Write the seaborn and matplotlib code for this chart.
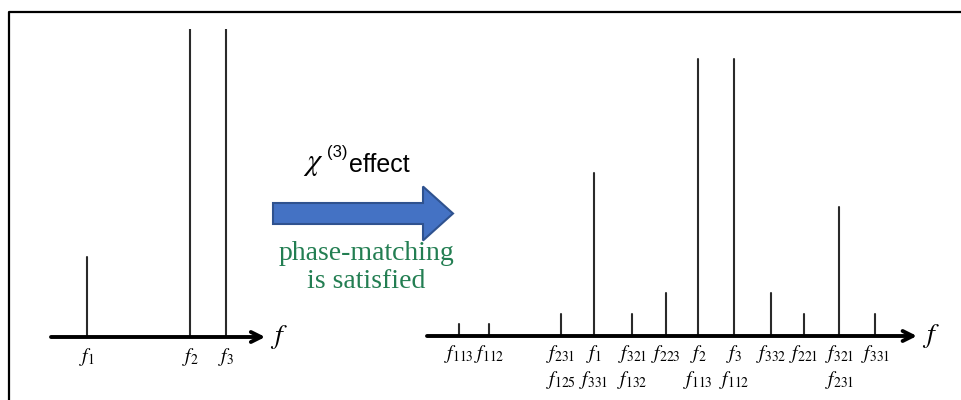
#%% Import
import pandas as pd
import matplotlib.pyplot as plt
import matplotlib.patches as mpatches
import seaborn as sns

#%% Data (frequencies in relative units, amplitudes normalised to the pump lines)
input_freq = [1.00, 3.86, 4.86]
input_amp = [0.26, 1.00, 1.00]
input_labels = ["$f_1$", "$f_2$", "$f_3$"]

output_freq = [-2.75, -1.92, 0.08, 1.00, 2.06, 3.00, 3.89, 4.89, 5.92, 6.83, 7.81, 8.81]
output_amp = [0.04, 0.04, 0.07, 0.53, 0.07, 0.14, 0.90, 0.90, 0.14, 0.07, 0.42, 0.07]
output_labels_top = ["$f_{113}$", "$f_{112}$", "$f_{231}$", "$f_1$", "$f_{321}$", "$f_{223}$",
                     "$f_2$", "$f_3$", "$f_{332}$", "$f_{221}$", "$f_{321}$", "$f_{331}$"]
output_labels_bottom = ["", "", "$f_{125}$", "$f_{331}$", "$f_{132}$", "",
                        "$f_{113}$", "$f_{112}$", "", "", "$f_{231}$", ""]

#%% Style
sns.set_theme(style="white")
plt.rcParams["mathtext.fontset"] = "stix"
plt.rcParams["text.color"] = "black"
plt.rcParams["font.family"] = ["Liberation Sans", "DejaVu Sans"]

W, H = 961, 400
PX = 36.0  # pixels per frequency unit
AMP_PX = 308.0  # pixels per amplitude unit


def stem_frame(freq, amp):
    rows = []
    for i, (x, y) in enumerate(zip(freq, amp)):
        rows.append({"id": i, "freq": x, "amp": 0.0})
        rows.append({"id": i, "freq": x, "amp": y})
    return pd.DataFrame(rows)


def spectrum_axes(fig, left_px, axis_px, xmin, xmax):
    rect = [left_px / W, (H - axis_px) / H, (xmax - xmin) * PX / W, AMP_PX / H]
    ax = fig.add_axes(rect)
    ax.set_xlim(xmin, xmax)
    ax.set_ylim(0, 1)
    ax.axis("off")
    ax.annotate("", xy=(xmax, 0), xytext=(xmin, 0),
                arrowprops=dict(arrowstyle="->, head_length=0.6, head_width=0.3",
                                lw=2.8, color="black", shrinkA=0, shrinkB=0),
                annotation_clip=False)
    ax.annotate("$f$", xy=(xmax, 0), xytext=(14, 0), textcoords="offset pixels",
                ha="center", va="center", fontsize=20, annotation_clip=False)
    return ax


def draw_stems(ax, freq, amp):
    sns.lineplot(data=stem_frame(freq, amp), x="freq", y="amp", units="id",
                 estimator=None, sort=False, color="#2a2a2a", lw=1.5,
                 legend=False, ax=ax)
    ax.set_xlabel("")
    ax.set_ylabel("")
    ax.axis("off")


def put_labels(ax, freq, labels, dy):
    for x, lab in zip(freq, labels):
        if lab:
            ax.annotate(lab, xy=(x, 0), xytext=(0, -dy), textcoords="offset pixels",
                        ha="center", va="center", fontsize=14, annotation_clip=False)


#%% Figure
fig = plt.figure(figsize=(W / 100, H / 100), dpi=100)

# decoration layer in pixel coordinates
deco = fig.add_axes([0, 0, 1, 1])
deco.set_xlim(0, W)
deco.set_ylim(H, 0)
deco.axis("off")
deco.plot([9, 9, W], [H, 12, 12], color="black", lw=1.6)
deco.add_patch(mpatches.FancyArrow(273, 213.5, 180, 0, width=21, head_width=54,
                                   head_length=30, length_includes_head=True,
                                   fc="#4472C4", ec="#2F528F", lw=1.5))
deco.text(303, 170, r"$\chi$", fontsize=22, va="baseline", ha="left")
deco.text(327, 157, "(3)", fontsize=12, va="baseline", ha="left")
deco.text(349, 172, "effect", fontsize=18, va="baseline", ha="left")
deco.text(366, 254, "phase-matching", fontsize=20, ha="center", va="center",
          family=["Liberation Serif", "DejaVu Serif"], color="#237E52")
deco.text(366, 281, "is satisfied", fontsize=20, ha="center", va="center",
          family=["Liberation Serif", "DejaVu Serif"], color="#237E52")

# input spectrum
ax_in = spectrum_axes(fig, 51, 337, 0.0, 5.95)
draw_stems(ax_in, input_freq, input_amp)
put_labels(ax_in, input_freq, input_labels, 20)

# output spectrum after four-wave mixing
ax_out = spectrum_axes(fig, 427, 336, -3.64, 9.97)
draw_stems(ax_out, output_freq, output_amp)
put_labels(ax_out, output_freq, output_labels_top, 18)
put_labels(ax_out, output_freq, output_labels_bottom, 44)

fig.savefig("out.png", dpi=100)
plt.close(fig)
